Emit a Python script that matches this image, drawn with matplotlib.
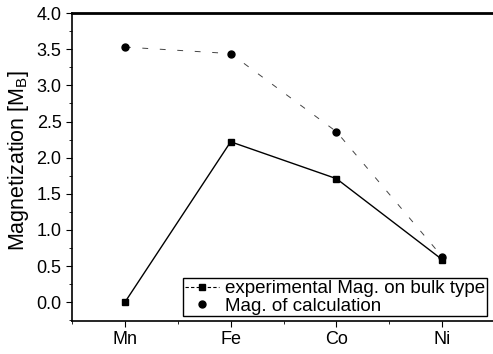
import numpy as np
import matplotlib.pyplot as plt
from matplotlib.ticker import MultipleLocator
from matplotlib.lines import Line2D

plt.rcParams['font.family'] = ['Liberation Sans', 'DejaVu Sans']
plt.rcParams['mathtext.fontset'] = 'custom'
plt.rcParams['mathtext.rm'] = 'Liberation Sans'

elements = ["Mn", "Fe", "Co", "Ni"]
mag_exp = [0.0, 2.22, 1.71, 0.59]
mag_calc = [3.53, 3.44, 2.36, 0.63]

x = np.arange(1, len(elements) + 1)

fig = plt.figure(figsize=(4.93, 3.54), dpi=100)
ax = fig.add_axes([0.146, 0.093, 0.854, 0.870])

ax.plot(x, mag_exp, color='k', linewidth=1.0, marker='s', markersize=5)
ax.plot(x, mag_calc, color='#444444', linewidth=0.7, linestyle=(0, (6, 12)))
ax.plot(x, mag_calc, color='k', linestyle='none', marker='o', markersize=5)

ax.set_xlim(0.5, 4.48)
ax.set_ylim(-0.26, 4.0)
ax.set_xticks(x)
ax.set_xticklabels(elements)
ax.xaxis.set_minor_locator(MultipleLocator(0.5))
ax.yaxis.set_major_locator(MultipleLocator(0.5))
ax.yaxis.set_minor_locator(MultipleLocator(0.25))
ax.yaxis.set_major_formatter(plt.FormatStrFormatter('%.1f'))
ax.tick_params(which='both', direction='out', labelsize=13)
ax.tick_params(which='major', length=4)
ax.tick_params(which='minor', length=2)
ax.set_ylabel("Magnetization [M$_\\mathrm{B}$]", fontsize=15.5)
ax.yaxis.set_label_coords(-0.098, 0.52)

for s in ax.spines.values():
    s.set_linewidth(1.2)
ax.spines['top'].set_linewidth(2)
ax.spines['right'].set_visible(False)

handles = [
    Line2D([], [], color='k', linewidth=0.8, linestyle=(0, (3, 2)), marker='s', markersize=5),
    Line2D([], [], color='k', linestyle='none', marker='o', markersize=5),
]
labels = ["experimental Mag. on bulk type", "Mag. of calculation"]
leg = ax.legend(handles, labels, loc='lower right', bbox_to_anchor=(0.985, 0.015),
                fontsize=13.5, frameon=True, fancybox=False, edgecolor='k',
                framealpha=1, borderpad=0.1, handlelength=1.8, handletextpad=0.3,
                labelspacing=0.0, borderaxespad=0)
leg.get_frame().set_linewidth(1.0)

fig.savefig("out.png", dpi=100)
